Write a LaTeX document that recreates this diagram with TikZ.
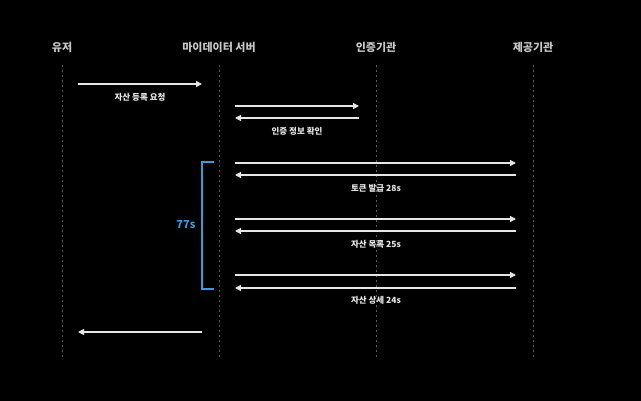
\documentclass[tikz,border=0pt]{standalone}
\usepackage{fontspec}
\setmainfont{Noto Sans CJK KR}
\usetikzlibrary{arrows.meta}
\definecolor{bg}{HTML}{000000}
\definecolor{hdr}{HTML}{C8C8C8}
\definecolor{arr}{HTML}{E6E6E6}
\definecolor{life}{HTML}{5A5A5A}
\definecolor{brk}{HTML}{3C9AD6}
\tikzset{
  hdrtext/.style={text=hdr, font=\bfseries\fontsize{11}{13}\selectfont, inner sep=0pt},
  msgtext/.style={text=arr, font=\bfseries\fontsize{8.5}{10}\selectfont, inner sep=0pt},
  lifeline/.style={draw=life, line width=1pt, dash pattern=on 2pt off 3pt},
  msg/.style={draw=arr, line width=1.2pt, -{Triangle[length=6pt,width=6pt]}},
  bracketline/.style={draw=brk, line width=1.4pt},
}
\begin{document}
\begin{tikzpicture}[x=1pt,y=-1pt]
\fill[bg] (0,0) rectangle (641,401);
\useasboundingbox (0,0) rectangle (641,401);
% headers
\node[hdrtext] (hU) at (62,47) {유저};
\node[hdrtext] (hS) at (219,47) {마이데이터 서버};
\node[hdrtext] (hA) at (376,47) {인증기관};
\node[hdrtext] (hP) at (533,47) {제공기관};
% lifelines
\foreach \n/\x in {U/62,S/219,A/376,P/533}{
  \coordinate (t\n) at (\x,65);
  \coordinate (b\n) at (\x,358);
  \draw[lifeline] (t\n) -- (b\n);
}
% message endpoints
\coordinate (u1) at (78,84); \coordinate (s1) at (202,84);
\coordinate (s2) at (235,106); \coordinate (a2) at (359,106);
\coordinate (a3) at (359,118); \coordinate (s3) at (235,118);
\coordinate (s4) at (235,163); \coordinate (p4) at (516,163);
\coordinate (p5) at (516,175); \coordinate (s5) at (235,175);
\coordinate (s6) at (235,219); \coordinate (p6) at (516,219);
\coordinate (p7) at (516,231); \coordinate (s7) at (235,231);
\coordinate (s8) at (235,275); \coordinate (p8) at (516,275);
\coordinate (p9) at (516,288); \coordinate (s9) at (235,288);
\coordinate (s10) at (202,332); \coordinate (u10) at (78,332);
\draw[msg] (u1) -- (s1);
\draw[msg] (s2) -- (a2);
\draw[msg] (a3) -- (s3);
\draw[msg] (s4) -- (p4);
\draw[msg] (p5) -- (s5);
\draw[msg] (s6) -- (p6);
\draw[msg] (p7) -- (s7);
\draw[msg] (s8) -- (p8);
\draw[msg] (p9) -- (s9);
\draw[msg] (s10) -- (u10);
% labels
\node[msgtext] (l1) at (140,97) {자산 등록 요청};
\node[msgtext] (l2) at (297,131) {인증 정보 확인};
\node[msgtext] (l3) at (376,188) {토큰 발급 28s};
\node[msgtext] (l4) at (376,244) {자산 목록 25s};
\node[msgtext] (l5) at (376,300) {자산 상세 24s};
% bracket
\coordinate (k1) at (214,162); \coordinate (k2) at (202,162);
\coordinate (k3) at (202,289); \coordinate (k4) at (214,289);
\draw[bracketline] (k1) -- (k2) -- (k3) -- (k4);
\node[text=brk, font=\bfseries\fontsize{11}{13}\selectfont, inner sep=0pt] (t77) at (186,225) {77s};
\end{tikzpicture}
\end{document}
